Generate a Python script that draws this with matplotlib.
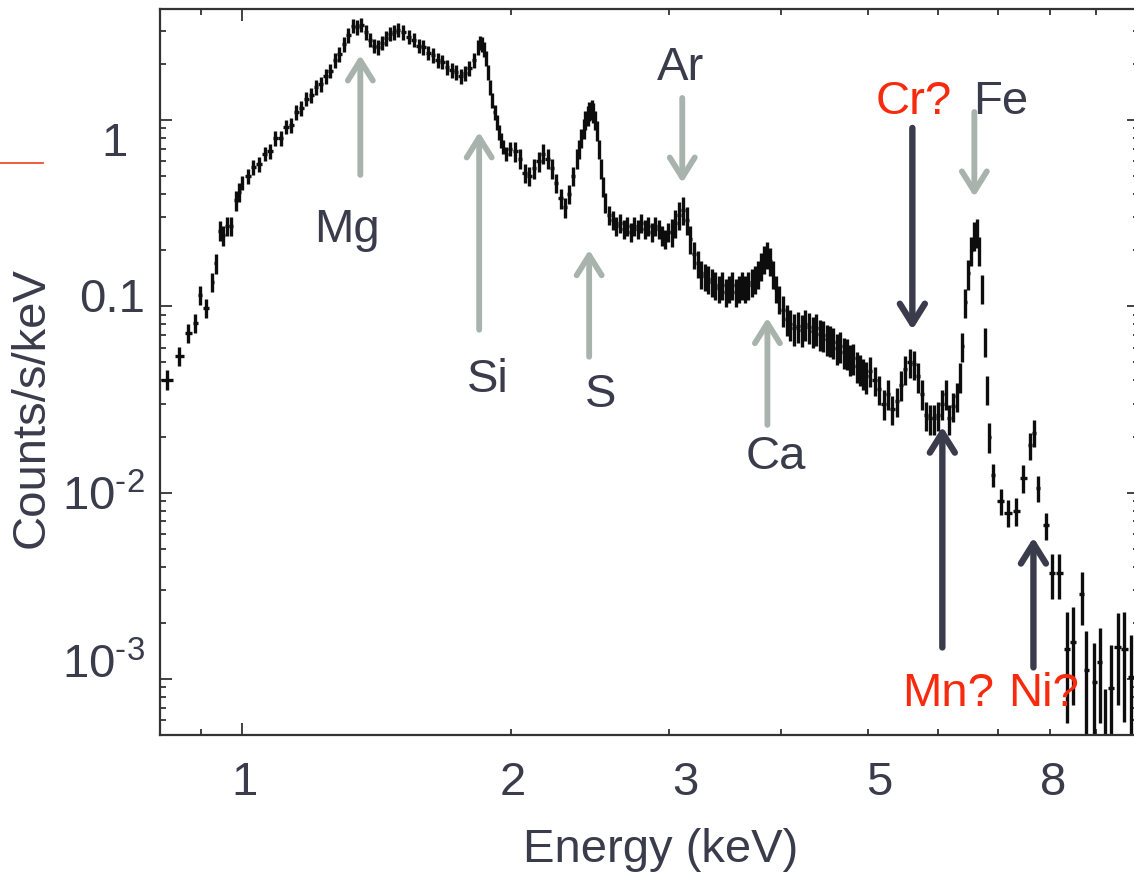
import numpy as np
import matplotlib
matplotlib.use('Agg')
import matplotlib.pyplot as plt
from matplotlib.ticker import FixedLocator, FixedFormatter, NullFormatter
from matplotlib.lines import Line2D
from matplotlib.transforms import ScaledTranslation

plt.rcParams['font.family'] = ['Liberation Sans', 'DejaVu Sans']
plt.rcParams['mathtext.fontset'] = 'custom'
plt.rcParams['mathtext.rm'] = 'Liberation Sans'
plt.rcParams['mathtext.it'] = 'Liberation Sans:italic'
plt.rcParams['mathtext.bf'] = 'Liberation Sans:bold'

# ---------------- data (keV, counts/s/keV) ----------------
energy_soft = [0.825, 0.851, 0.871, 0.887, 0.898, 0.912, 0.927, 0.935, 0.945, 0.953,
               0.962, 0.972, 0.985, 0.993]
counts_soft = [0.0404, 0.054, 0.072, 0.0815, 0.115, 0.098, 0.135, 0.17, 0.255, 0.24,
               0.27, 0.27, 0.37, 0.41]
relerr_soft = 0.12

energy_mg = [1.000, 1.015, 1.030, 1.045, 1.060, 1.075, 1.090, 1.105, 1.120, 1.135,
             1.150, 1.165, 1.180, 1.195, 1.210, 1.225, 1.240, 1.255, 1.270, 1.285,
             1.300, 1.315, 1.330, 1.345, 1.360, 1.375, 1.390, 1.405, 1.420, 1.435,
             1.450, 1.465, 1.480, 1.495]
counts_mg = [0.46, 0.50, 0.56, 0.58, 0.66, 0.68, 0.80, 0.80, 0.92, 0.94,
             1.10, 1.16, 1.30, 1.36, 1.50, 1.56, 1.72, 1.84, 2.10, 2.25,
             2.55, 2.85, 3.20, 3.15, 3.25, 2.95, 2.70, 2.50, 2.45, 2.60,
             2.75, 2.90, 2.95, 3.05]
relerr_mg = 0.09

energy_si = [1.515, 1.535, 1.555, 1.575, 1.595, 1.615, 1.635, 1.655, 1.675, 1.695,
             1.715, 1.735, 1.755, 1.775, 1.795, 1.815, 1.835, 1.845, 1.855, 1.865,
             1.875, 1.885, 1.895, 1.905, 1.915, 1.925, 1.935, 1.945, 1.955, 1.975,
             1.995]
counts_si = [2.95, 2.80, 2.70, 2.50, 2.45, 2.30, 2.22, 2.10, 2.05, 1.92,
             1.85, 1.80, 1.72, 1.78, 1.90, 2.10, 2.45, 2.60, 2.55, 2.40,
             2.15, 1.80, 1.50, 1.28, 1.10, 0.97, 0.86, 0.78, 0.72, 0.66,
             0.70]
relerr_si = 0.09

energy_s = [2.020, 2.045, 2.070, 2.095, 2.120, 2.145, 2.170, 2.195, 2.220, 2.245,
            2.270, 2.295, 2.320, 2.345, 2.370, 2.383, 2.395, 2.408, 2.420, 2.433,
            2.445, 2.458, 2.470, 2.483, 2.495, 2.508, 2.520, 2.533, 2.545, 2.570,
            2.595, 2.620, 2.645, 2.670, 2.695, 2.720, 2.745, 2.770, 2.795, 2.820,
            2.845, 2.870, 2.895, 2.920, 2.945, 2.970, 2.995]
counts_s = [0.68, 0.62, 0.52, 0.50, 0.55, 0.60, 0.66, 0.62, 0.55, 0.46,
            0.38, 0.34, 0.40, 0.50, 0.62, 0.70, 0.80, 0.90, 1.00, 1.06,
            1.12, 1.14, 1.10, 1.00, 0.88, 0.70, 0.55, 0.44, 0.36, 0.31,
            0.29, 0.27, 0.28, 0.26, 0.27, 0.25, 0.27, 0.26, 0.28, 0.26,
            0.27, 0.25, 0.27, 0.26, 0.24, 0.23, 0.25]
relerr_s = 0.12

energy_ar = [3.02, 3.05, 3.08, 3.11, 3.14, 3.17, 3.20, 3.23, 3.26, 3.29,
             3.32, 3.35, 3.38, 3.41, 3.44, 3.47, 3.50, 3.53, 3.56, 3.59,
             3.62, 3.65, 3.68, 3.71, 3.74, 3.77, 3.80, 3.83, 3.86, 3.89,
             3.92, 3.95, 3.98]
counts_ar = [0.25, 0.28, 0.31, 0.33, 0.29, 0.23, 0.19, 0.17, 0.15, 0.145,
             0.14, 0.135, 0.13, 0.125, 0.13, 0.12, 0.125, 0.13, 0.12, 0.125,
             0.13, 0.125, 0.13, 0.135, 0.14, 0.15, 0.165, 0.18, 0.19, 0.175,
             0.15, 0.125, 0.11]
relerr_ar = 0.17

energy_ca = [4.02, 4.06, 4.10, 4.14, 4.18, 4.22, 4.26, 4.30, 4.34, 4.38,
             4.42, 4.46, 4.50, 4.54, 4.58, 4.62, 4.66, 4.70, 4.74, 4.78,
             4.82, 4.86, 4.90, 4.94, 4.98]
counts_ca = [0.095, 0.085, 0.080, 0.076, 0.078, 0.075, 0.080, 0.077, 0.074, 0.076,
             0.071, 0.070, 0.067, 0.066, 0.064, 0.060, 0.061, 0.057, 0.056, 0.052,
             0.053, 0.048, 0.046, 0.044, 0.042]
relerr_ca = 0.19

energy_cr = [5.03, 5.09, 5.15, 5.21, 5.27, 5.33, 5.39, 5.45, 5.51, 5.57,
             5.63, 5.69, 5.75, 5.81, 5.87, 5.93, 5.99, 6.05, 6.11, 6.17,
             6.23, 6.29]
counts_cr = [0.045, 0.040, 0.036, 0.030, 0.034, 0.028, 0.031, 0.038, 0.046, 0.050,
             0.049, 0.042, 0.034, 0.026, 0.025, 0.025, 0.026, 0.030, 0.034, 0.025,
             0.029, 0.033]
relerr_cr = 0.18

energy_fe = [6.34, 6.38, 6.43, 6.48, 6.53, 6.58, 6.62, 6.66, 6.71, 6.76, 6.80, 6.84]
counts_fe = [0.042, 0.061, 0.105, 0.15, 0.20, 0.24, 0.25, 0.20, 0.125, 0.065, 0.036, 0.020]
relerr_fe = 0.18

energy_hard = [6.91, 7.04, 7.18, 7.33, 7.46, 7.60, 7.68, 7.76, 7.92, 8.04,
               8.19, 8.36, 8.49, 8.67, 8.78, 8.96, 9.08, 9.22, 9.36, 9.51,
               9.68, 9.85]
counts_hard = [0.0125, 0.0090, 0.0078, 0.0080, 0.0120, 0.018, 0.021, 0.0106, 0.0067, 0.0037,
               0.0037, 0.00144, 0.00157, 0.00284, 0.00112, 0.00096, 0.00123, 0.00048, 0.00089, 0.00149,
               0.00144, 0.00102]
err_hard = [0.0018, 0.0014, 0.0013, 0.0014, 0.0020, 0.0030, 0.0034, 0.0017, 0.0011, 0.0010,
            0.0010, 0.00086, 0.00085, 0.0009, 0.00068, 0.0006, 0.00065, 0.0004, 0.00064, 0.00077,
            0.00085, 0.0007]

xtick_vals = [1, 2, 3, 5, 8]
xtick_labels = ['1', '2', '3', '5', '8']
xminor_vals = [0.9, 4, 6, 7, 9]
ytick_vals = [1e-3, 1e-2, 0.1, 1]
ytick_labels = [r'$10^{\text{-3}}$', r'$10^{\text{-2}}$', '0.1', '1']

# line annotations
line_labels = ['Mg', 'Si', 'S', 'Ar', 'Ca', 'Cr?', 'Fe', 'Mn?', 'Ni?']
label_pos = [(1.311, 0.222), (1.88, 0.0348), (2.513, 0.0289), (3.088, 1.638), (3.944, 0.01345),
             (5.624, 1.077), (7.036, 1.077), (6.153, 0.000713), (7.86, 0.000713)]
arrow_x = [1.356, 1.841, 2.443, 3.104, 3.864, 5.61, 6.58, 6.06, 7.66]
arrow_tail = [0.507, 0.0748, 0.0536, 1.312, 0.0231, 0.906, 1.104, 0.001475, 0.001153]
arrow_tip = [2.23, 0.862, 0.201, 0.459, 0.0868, 0.0748, 0.3865, 0.0226, 0.00574]

# ---------------- styles ----------------
TXT = '#3a3c4c'
GRAY = '#a9b3ad'
RED = '#f72a0d'
label_colors = [TXT, TXT, TXT, TXT, TXT, RED, TXT, RED, RED]
arrow_colors = [GRAY, GRAY, GRAY, GRAY, GRAY, TXT, GRAY, TXT, TXT]
# hand-placed tick label nudges in pixels (dx, dy), in tick order
xlabel_nudge = [(3, 0), (1, 0), (16, 0), (12, 0), (3, 0)]
ylabel_nudge = [(0, -18), (0, 0), (0, -11), (-17, 19)]

fig = plt.figure(figsize=(11.34, 8.74), dpi=100)
W, H = 1134.0, 874.0
ax = fig.add_axes([160 / W, (H - 735) / H, (1139 - 160) / W, (735 - 9) / H])

segs = [(energy_soft, counts_soft, relerr_soft), (energy_mg, counts_mg, relerr_mg),
        (energy_si, counts_si, relerr_si), (energy_s, counts_s, relerr_s),
        (energy_ar, counts_ar, relerr_ar), (energy_ca, counts_ca, relerr_ca),
        (energy_cr, counts_cr, relerr_cr), (energy_fe, counts_fe, relerr_fe)]
E = np.concatenate([np.array(s[0]) for s in segs] + [np.array(energy_hard)])
C = np.concatenate([np.array(s[1]) for s in segs] + [np.array(counts_hard)])
Yerr = np.concatenate([np.array(s[1]) * s[2] for s in segs] + [np.array(err_hard)])
order = np.argsort(E)
E, C, Yerr = E[order], C[order], Yerr[order]

gaps = np.diff(E)
left = np.concatenate([[gaps[0]], gaps])
right = np.concatenate([gaps, [gaps[-1]]])
Xerr = 0.5 * np.minimum(left, right)

ax.errorbar(E, C, yerr=Yerr, xerr=Xerr, fmt='none', ecolor='#0d0d0d',
            elinewidth=2.4, capsize=0)

ax.set_xscale('log')
ax.set_yscale('log')
ax.set_xlim(0.81, 10.05)
ax.set_ylim(5.0e-4, 3.94)

ax.xaxis.set_major_locator(FixedLocator(xtick_vals))
ax.xaxis.set_major_formatter(FixedFormatter(xtick_labels))
ax.xaxis.set_minor_locator(FixedLocator(xminor_vals))
ax.xaxis.set_minor_formatter(NullFormatter())
ax.yaxis.set_major_locator(FixedLocator(ytick_vals))
ax.yaxis.set_major_formatter(FixedFormatter(ytick_labels))
ax.yaxis.set_minor_formatter(NullFormatter())

ax.tick_params(axis='both', which='both', direction='in', top=True, right=True,
               color='#333333', width=1.3, labelcolor=TXT, labelsize=34)
ax.tick_params(axis='x', which='major', length=4.3, pad=19)
ax.tick_params(axis='x', which='minor', length=4.3)
ax.tick_params(axis='y', which='major', length=8.6, pad=11)
ax.tick_params(axis='y', which='minor', length=4.3)

xticks = ax.xaxis.get_major_ticks(len(xtick_vals))
for i, t in enumerate(xticks):
    if xtick_vals[i] == 1:
        t.tick1line.set_markersize(8.6)
        t.tick2line.set_markersize(8.6)
    dx, dy = xlabel_nudge[i]
    t.label1.set_transform(t.label1.get_transform() +
                           ScaledTranslation(dx / 100, -dy / 100, fig.dpi_scale_trans))
yticks = ax.yaxis.get_major_ticks(len(ytick_vals))
for i, t in enumerate(yticks):
    dx, dy = ylabel_nudge[i]
    t.label1.set_transform(t.label1.get_transform() +
                           ScaledTranslation(dx / 100, -dy / 100, fig.dpi_scale_trans))

for sp in ax.spines.values():
    sp.set_linewidth(1.6)
    sp.set_color('#333333')

ax.set_xlabel('Energy (keV)', fontsize=34, color=TXT)
ax.set_ylabel('Counts/s/keV', fontsize=34, color=TXT)
ax.xaxis.set_label_coords((661 - 160) / 979.0, (735 - 850) / 726.0)
ax.xaxis.label.set_va('center')
ax.yaxis.set_label_coords((32 - 160) / 979.0, (735 - 408) / 726.0)
ax.yaxis.label.set_va('center')

for i, lab in enumerate(line_labels):
    ax.annotate('', xy=(arrow_x[i], arrow_tip[i]), xytext=(arrow_x[i], arrow_tail[i]),
                arrowprops=dict(arrowstyle='->,head_length=0.72,head_width=0.45',
                                color=arrow_colors[i],
                                lw=4.6 if arrow_colors[i] == TXT else 4.2,
                                shrinkA=0, shrinkB=0, mutation_scale=20),
                annotation_clip=False)
    ax.text(label_pos[i][0], label_pos[i][1], lab, fontsize=34, color=label_colors[i],
            ha='center', va='baseline', clip_on=False)

fig.add_artist(Line2D([0, 43 / W], [1 - 163 / H, 1 - 163 / H], color='#f0502a', lw=1.3))

fig.savefig('out.png', dpi=100)
